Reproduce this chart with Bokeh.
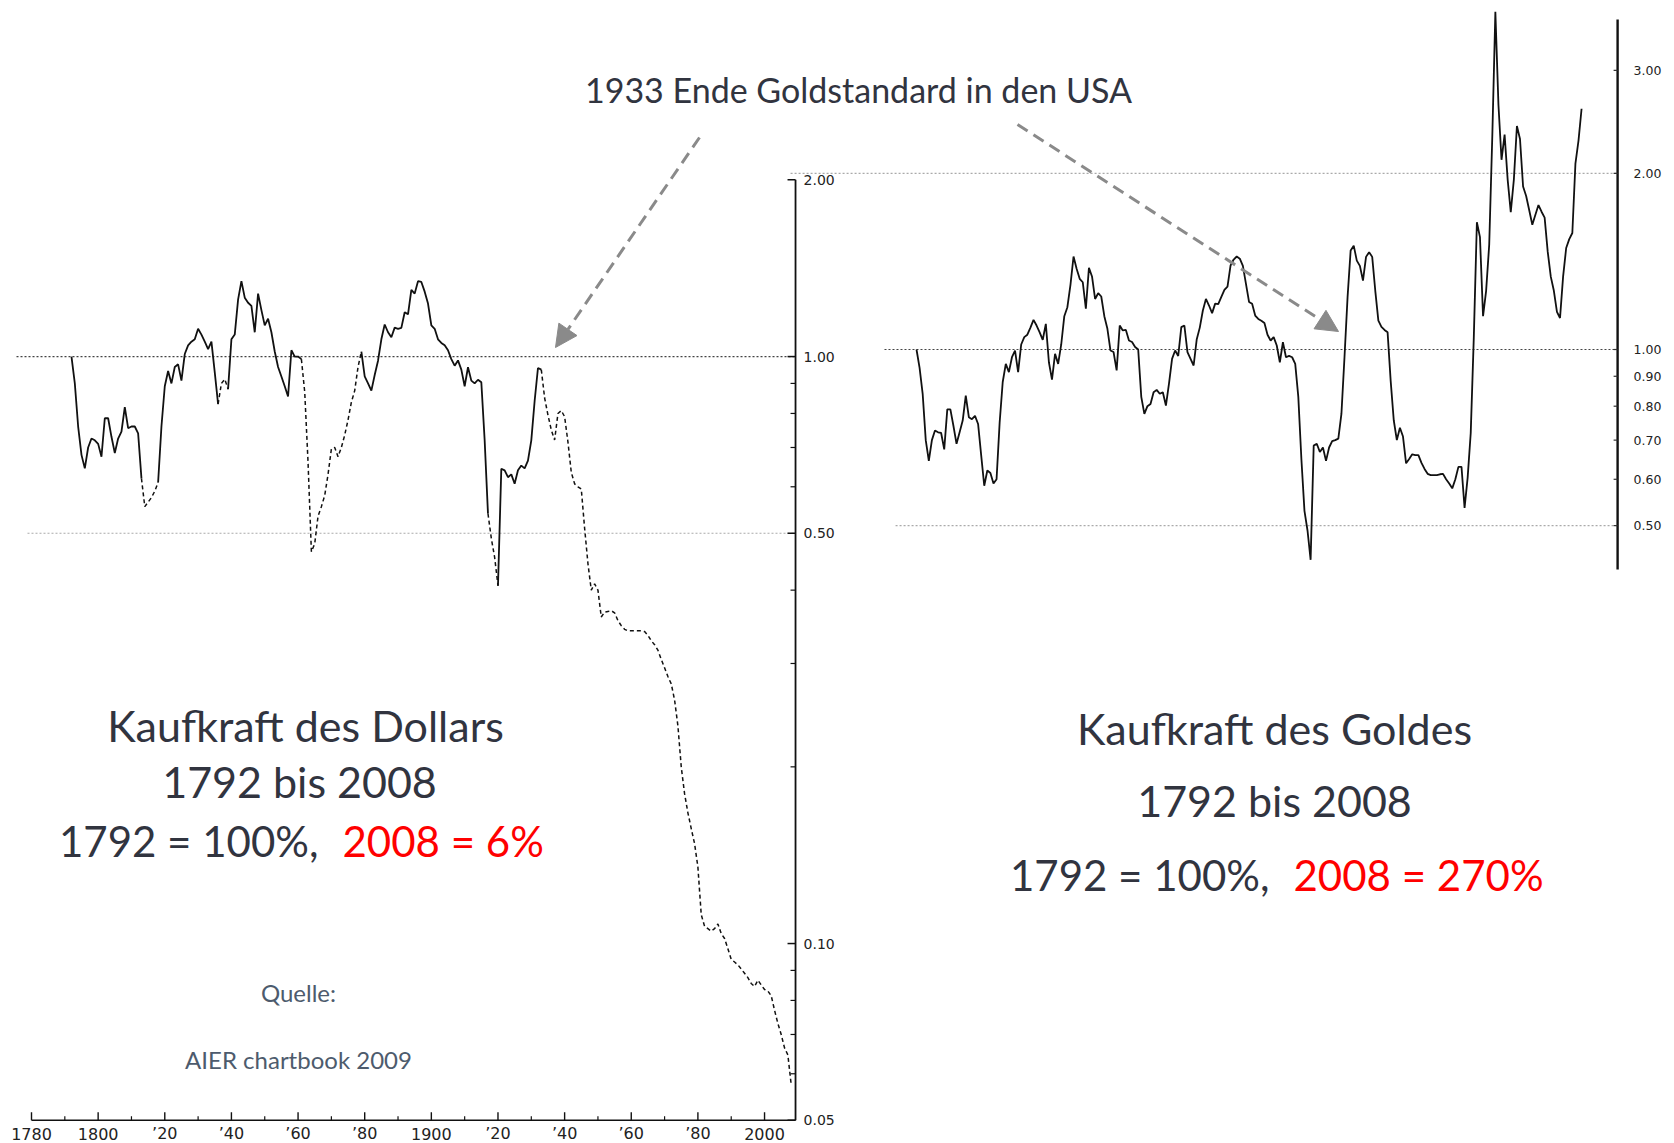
import numpy as np
from bokeh.plotting import figure
from bokeh.models import Range1d, LogScale, Arrow, NormalHead
from bokeh.core.properties import value
from bokeh.embed import file_html
from bokeh.resources import INLINE

# ---------------- data ----------------
years = list(range(1792, 2009))

dollar = [
    1.00, 0.90, 0.76, 0.68, 0.645, 0.70, 0.725, 0.72,                      # 1792-1799
    0.71, 0.675, 0.785, 0.785, 0.73, 0.685, 0.725, 0.745, 0.82, 0.755,     # 1800s
    0.76, 0.76, 0.74, 0.62, 0.555, 0.565, 0.575, 0.59, 0.61, 0.76,         # 1810s
    0.89, 0.945, 0.90, 0.96, 0.97, 0.91, 1.01, 1.045, 1.06, 1.07,          # 1820s
    1.115, 1.09, 1.06, 1.03, 1.06, 0.94, 0.83, 0.90, 0.915, 0.88,          # 1830s
    1.07, 1.09, 1.25, 1.344, 1.26, 1.235, 1.22, 1.10, 1.28, 1.20,          # 1840s
    1.13, 1.16, 1.10, 1.02, 0.96, 0.925, 0.89, 0.855, 1.025, 1.00,         # 1850s
    1.00, 0.99, 0.87, 0.66, 0.465, 0.48, 0.535, 0.555, 0.58, 0.63,         # 1860s
    0.696, 0.70, 0.675, 0.70, 0.735, 0.78, 0.836, 0.875, 0.96, 1.02,       # 1870s
    0.925, 0.90, 0.875, 0.93, 0.984, 1.07, 1.134, 1.10, 1.079, 1.12,       # 1880s
    1.115, 1.119, 1.19, 1.18, 1.299, 1.28, 1.344, 1.34, 1.29, 1.231,       # 1890s
    1.13, 1.115, 1.07, 1.055, 1.045, 1.025, 0.99, 0.965, 0.985, 0.95,      # 1900s
    0.89, 0.959, 0.91, 0.90, 0.913, 0.904, 0.72, 0.54, 0.49, 0.455,        # 1910s
    0.407, 0.644, 0.64, 0.623, 0.63, 0.607, 0.64, 0.652, 0.645, 0.665,     # 1920s
    0.72, 0.84, 0.956, 0.95, 0.85, 0.795, 0.75, 0.721, 0.80, 0.809,        # 1930s
    0.79, 0.715, 0.635, 0.607, 0.60, 0.595, 0.51, 0.444, 0.40, 0.41,       # 1940s
    0.40, 0.36, 0.367, 0.368, 0.369, 0.366, 0.355, 0.348, 0.343, 0.341,    # 1950s
    0.341, 0.341, 0.341, 0.341, 0.340, 0.335, 0.328, 0.323, 0.316, 0.305,  # 1960s
    0.295, 0.285, 0.277, 0.26, 0.235, 0.20, 0.18, 0.167, 0.157, 0.148,     # 1970s
    0.135, 0.112, 0.107, 0.106, 0.105, 0.106, 0.108, 0.104, 0.102, 0.098,  # 1980s
    0.094, 0.093, 0.092, 0.0905, 0.089, 0.0875, 0.0855, 0.0845, 0.0866, 0.085,  # 1990s
    0.0835, 0.083, 0.0815, 0.077, 0.0731, 0.070, 0.0664, 0.0646, 0.0575,   # 2000-2008
]

gold = [
    1.00, 0.93, 0.84, 0.70, 0.645, 0.70, 0.727, 0.722,                     # 1792-1799
    0.72, 0.675, 0.79, 0.79, 0.74, 0.69, 0.722, 0.756, 0.834, 0.766,       # 1800s
    0.76, 0.77, 0.746, 0.66, 0.585, 0.621, 0.615, 0.59, 0.60, 0.75,        # 1810s
    0.88, 0.945, 0.915, 0.97, 0.996, 0.915, 1.02, 1.05, 1.06, 1.09,        # 1820s
    1.124, 1.099, 1.07, 1.039, 1.106, 0.951, 0.888, 0.983, 0.945, 1.02,    # 1830s
    1.14, 1.181, 1.29, 1.442, 1.374, 1.321, 1.303, 1.174, 1.379, 1.333,    # 1840s
    1.22, 1.248, 1.232, 1.14, 1.085, 0.996, 0.99, 0.921, 1.099, 1.078,     # 1850s
    1.08, 1.036, 1.03, 1.01, 1.00, 0.83, 0.776, 0.80, 0.807, 0.845,        # 1860s
    0.853, 0.84, 0.845, 0.802, 0.874, 0.964, 0.996, 0.975, 1.092, 1.099,   # 1870s
    0.99, 0.964, 0.939, 1.04, 1.09, 1.166, 1.22, 1.189, 1.154, 1.198,      # 1880s
    1.196, 1.23, 1.265, 1.281, 1.392, 1.425, 1.442, 1.43, 1.39, 1.295,     # 1890s
    1.206, 1.197, 1.143, 1.128, 1.12, 1.11, 1.06, 1.036, 1.05, 1.016,      # 1900s
    0.951, 1.029, 0.97, 0.975, 0.97, 0.945, 0.83, 0.65, 0.53, 0.49,        # 1910s
    0.437, 0.685, 0.69, 0.668, 0.68, 0.645, 0.68, 0.697, 0.70, 0.704,      # 1920s
    0.776, 0.97, 1.229, 1.477, 1.505, 1.419, 1.39, 1.312, 1.44, 1.467,     # 1930s
    1.44, 1.26, 1.12, 1.093, 1.08, 1.07, 0.884, 0.757, 0.70, 0.735,        # 1940s
    0.71, 0.639, 0.65, 0.662, 0.66, 0.66, 0.64, 0.625, 0.613, 0.61,        # 1950s
    0.61, 0.61, 0.612, 0.613, 0.60, 0.59, 0.579, 0.60, 0.63, 0.63,         # 1960s
    0.536, 0.604, 0.72, 1.05, 1.65, 1.556, 1.14, 1.26, 1.51, 2.31,         # 1970s
    3.78, 2.62, 2.11, 2.33, 1.95, 1.717, 1.95, 2.41, 2.29, 1.90,           # 1980s
    1.83, 1.73, 1.634, 1.70, 1.766, 1.72, 1.681, 1.47, 1.332, 1.26,        # 1990s
    1.16, 1.132, 1.332, 1.491, 1.544, 1.582, 2.078, 2.276, 2.58,           # 2000-2008
]

# periods drawn dashed in the dollar series
dollar_dashed_spans = [(1813, 1818), (1836, 1839), (1861, 1879), (1917, 1920), (1933, 2008)]

left_major_ticks = [2.0, 1.0, 0.5, 0.1, 0.05]
left_major_labels = ["2.00", "1.00", "0.50", "0.10", "0.05"]
left_minor_ticks = [0.9, 0.8, 0.7, 0.6, 0.4, 0.3, 0.2, 0.09, 0.08, 0.07, 0.06]
left_ref_dark = [1.0]
left_ref_light = [0.5]

right_ticks = [3.0, 2.0, 1.0, 0.9, 0.8, 0.7, 0.6, 0.5]
right_labels = ["3.00", "2.00", "1.00", "0.90", "0.80", "0.70", "0.60", "0.50"]
right_ref_light = [2.0, 0.5]
right_ref_dark = [1.0]

x_major_ticks = [1780, 1800, 1820, 1840, 1860, 1880, 1900, 1920, 1940, 1960, 1980, 2000]
x_major_labels = ["1780", "1800", "\u201920", "\u201940", "\u201960", "\u201980",
                  "1900", "\u201920", "\u201940", "\u201960", "\u201980", "2000"]
x_minor_ticks = [1790, 1810, 1830, 1850, 1870, 1890, 1910, 1930, 1950, 1970, 1990]

assert len(dollar) == len(years) and len(gold) == len(years)

# ---------------- layout constants (page pixels) ----------------
W, H = 1674, 1143
TXT = "#31343f"
RED = "#ff0000"
GREY_TXT = "#4d5b6d"
ARROW = "#8a8a8a"
INK = "#111111"

p = figure(width=W, height=H, x_range=Range1d(0, W), y_range=Range1d(H, 0),
           x_axis_type=None, y_axis_type=None, min_border=0, toolbar_location=None,
           output_backend="svg", outline_line_color=None, background_fill_color="white")

p.extra_x_ranges = {"lx": Range1d(1770.696, 2273.097), "rx": Range1d(1494.50, 2038.18)}
p.extra_y_ranges = {"ly": Range1d(0.045640, 4.0420), "ry": Range1d(0.043929, 3.9500)}
p.extra_y_scales = {"ly": LogScale(), "ry": LogScale()}

L = dict(x_range_name="lx", y_range_name="ly")
R = dict(x_range_name="rx", y_range_name="ry")

LEFT_AXIS_X = 2009.3       # year position of the left chart's value axis
RIGHT_AXIS_X = 2019.7      # year position of the right chart's value axis
LEFT_X0 = min(x_major_ticks)
LEFT_YMIN, LEFT_YMAX = min(left_major_ticks), max(left_major_ticks)
RIGHT_YMIN, RIGHT_YMAX = 0.4205, 3.667

# ---------------- reference lines ----------------
p.segment(x0=[1775.5] * len(left_ref_dark), y0=left_ref_dark, x1=[LEFT_AXIS_X] * len(left_ref_dark),
          y1=left_ref_dark, line_color="#444444", line_width=1.2, line_dash="2 2", **L)
p.segment(x0=[1778.8] * len(left_ref_light), y0=left_ref_light, x1=[LEFT_AXIS_X] * len(left_ref_light),
          y1=left_ref_light, line_color="#aaaaaa", line_width=1.2, line_dash="2 2", **L)
p.segment(x0=[1751.1, 1785.2], y0=right_ref_light, x1=[RIGHT_AXIS_X] * 2, y1=right_ref_light,
          line_color="#aaaaaa", line_width=1.2, line_dash="2 2", **R)
p.segment(x0=[1781.6], y0=right_ref_dark, x1=[RIGHT_AXIS_X], y1=right_ref_dark,
          line_color="#444444", line_width=1.2, line_dash="2 2", **R)

# ---------------- dollar series ----------------
def split_runs(spans, first, last):
    solid, dashed, cur = [], [], first
    for a, b in spans:
        if a > cur:
            solid.append((cur, a))
        dashed.append((a, b))
        cur = b
    if cur < last:
        solid.append((cur, last))
    return solid, dashed

solid_runs, dashed_runs = split_runs(dollar_dashed_spans, years[0], years[-1])
def run_xy(runs):
    xs, ys = [], []
    for a, b in runs:
        i, j = years.index(a), years.index(b)
        xs.append(years[i:j + 1])
        ys.append(dollar[i:j + 1])
    return xs, ys

sx, sy = run_xy(solid_runs)
dx, dy = run_xy(dashed_runs)
p.multi_line(xs=sx, ys=sy, line_color=INK, line_width=1.8, **L)
p.multi_line(xs=dx, ys=dy, line_color=INK, line_width=1.5, line_dash="4 3", **L)

# ---------------- gold series ----------------
p.line(years, gold, line_color=INK, line_width=1.8, **R)

# ---------------- left chart axes ----------------
p.segment(x0=[LEFT_AXIS_X], y0=[LEFT_YMIN], x1=[LEFT_AXIS_X], y1=[LEFT_YMAX],
          line_color="#111111", line_width=1.8, **L)
p.segment(x0=[LEFT_X0], y0=[LEFT_YMIN], x1=[LEFT_AXIS_X], y1=[LEFT_YMIN],
          line_color="#111111", line_width=1.6, **L)
p.ray(x=[LEFT_AXIS_X] * len(left_major_ticks), y=left_major_ticks, length=8, length_units="screen",
      angle=np.pi, line_color="#111111", line_width=1.5, **L)
p.ray(x=[LEFT_AXIS_X] * len(left_minor_ticks), y=left_minor_ticks, length=5, length_units="screen",
      angle=np.pi, line_color="#111111", line_width=1.2, **L)
p.text(x=[LEFT_AXIS_X] * len(left_major_ticks), y=left_major_ticks, text=left_major_labels,
       x_offset=8, text_align="left", text_baseline="middle", text_color="#222222",
       text_font=value("DejaVu Sans"), text_font_size="14px", **L)

p.ray(x=x_major_ticks, y=[LEFT_YMIN] * len(x_major_ticks), length=8, length_units="screen",
      angle=np.pi / 2, line_color="#111111", line_width=1.4, **L)
p.ray(x=x_minor_ticks, y=[LEFT_YMIN] * len(x_minor_ticks), length=4, length_units="screen",
      angle=np.pi / 2, line_color="#111111", line_width=1.2, **L)
p.text(x=x_major_ticks, y=[1133] * len(x_major_ticks), text=x_major_labels,
       text_align="center", text_baseline="middle", text_color="#222222",
       text_font=value("DejaVu Sans"), text_font_size="16px", x_range_name="lx")

# ---------------- right chart axis ----------------
p.segment(x0=[RIGHT_AXIS_X], y0=[RIGHT_YMIN], x1=[RIGHT_AXIS_X], y1=[RIGHT_YMAX],
          line_color="#111111", line_width=2.4, **R)
p.ray(x=[RIGHT_AXIS_X] * len(right_ticks), y=right_ticks, length=4, length_units="screen",
      angle=np.pi, line_color="#333333", line_width=1.2, **R)
p.text(x=[RIGHT_AXIS_X] * len(right_ticks), y=right_ticks, text=right_labels,
       x_offset=16, text_align="left", text_baseline="middle", text_color="#222222",
       text_font=value("DejaVu Sans"), text_font_size="12.5px", **R)

# ---------------- annotations ----------------
def txt(x, y, s, size, color=TXT, align="center"):
    p.text(x=[x], y=[y], text=[s], text_align=align, text_baseline="middle",
           text_color=color, text_font=value("Lato"), text_font_size=size)

txt(858, 89, "1933 Ende Goldstandard in den USA", "34px")

txt(305, 725, "Kaufkraft des Dollars", "43px")
txt(299, 781, "1792 bis 2008", "43px")
txt(318, 840, "1792 = 100%,", "42px", align="right")
txt(342, 840, "2008 = 6%", "42px", color=RED, align="left")

txt(1274, 728, "Kaufkraft des Goldes", "43px")
txt(1274, 800, "1792 bis 2008", "43px")
txt(1269, 874, "1792 = 100%,", "42px", align="right")
txt(1293, 874, "2008 = 270%", "42px", color=RED, align="left")

txt(298, 992, "Quelle:", "24px", color=GREY_TXT)
txt(298, 1059, "AIER chartbook 2009", "24px", color=GREY_TXT)

for xs_, ys_, xe_, ye_ in [(699, 137, 555, 347), (1017, 124, 1338, 331)]:
    p.add_layout(Arrow(end=NormalHead(size=22, fill_color=ARROW, line_color=ARROW, line_width=1),
                       x_start=xs_, y_start=ys_, x_end=xe_, y_end=ye_,
                       line_color=ARROW, line_width=3, line_dash="12 7"))

open("out.html", "w").write(file_html(p, INLINE))
